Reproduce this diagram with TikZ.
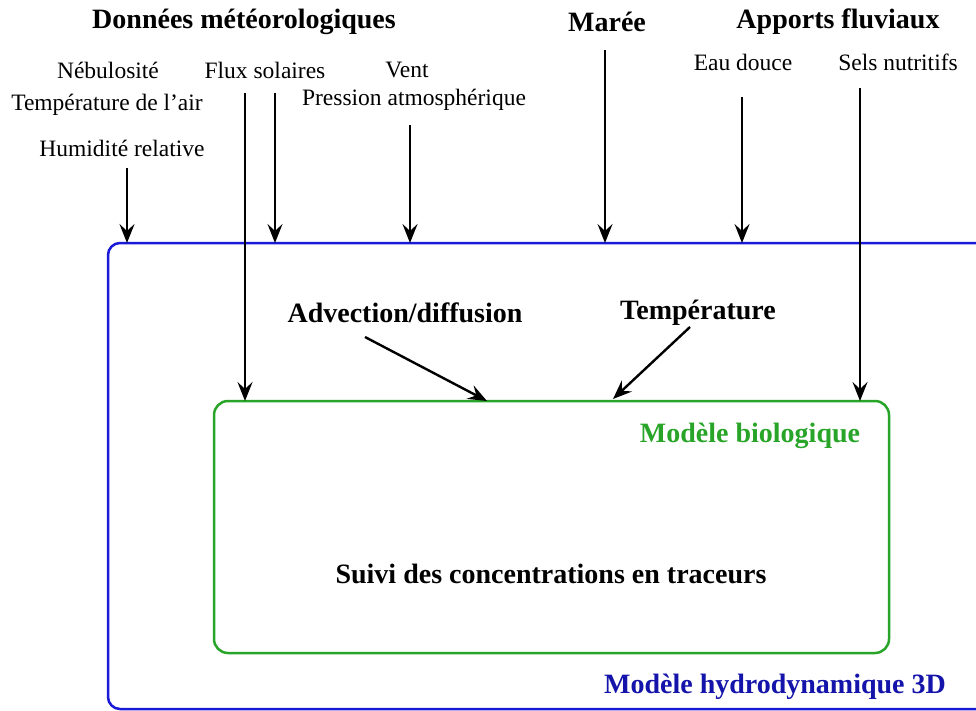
\documentclass[tikz,border=0pt]{standalone}
\usepackage{fontspec}
\setmainfont{Liberation Serif}
\usetikzlibrary{arrows.meta}
\definecolor{hblue}{RGB}{25,25,215}
\definecolor{htext}{RGB}{20,20,170}
\definecolor{bgreen}{RGB}{40,165,40}
\begin{document}
\begin{tikzpicture}[x=1pt,y=-1pt,
  big/.style={font=\fontsize{28}{32}\selectfont\bfseries, inner sep=0pt},
  small/.style={font=\fontsize{23.5}{28}\selectfont, inner sep=0pt},
  arr/.style={line width=2.4pt, -{Stealth[length=19pt,width=15pt,inset=7pt]}},
  boxstyle/.style={line width=2.5pt, inner sep=0pt, outer sep=0pt, anchor=north west}
  ]
\useasboundingbox (0,0) rectangle (976,711);
\clip (0,0) rectangle (976,711);

% boxes
\node[boxstyle, draw=hblue, rounded corners=12pt, minimum width=900pt, minimum height=466pt] (hydro) at (108,243) {};
\node[boxstyle, draw=bgreen, rounded corners=14pt, minimum width=675pt, minimum height=252pt] (bio) at (214,401) {};

% titles
\node[big] (meteo) at (244,22) {Données météorologiques};
\node[big] (maree) at (607,22) {Marée};
\node[big] (fluv) at (838,22) {Apports fluviaux};

% small labels
\node[small] (nebu) at (108,70) {Nébulosité};
\node[small] (flux) at (265,70) {Flux solaires};
\node[small] (vent) at (407,70) {Vent};
\node[small] (press) at (414,100) {Pression atmosphérique};
\node[small] (tair) at (107,105) {Température de l’air};
\node[small] (hum) at (122,148) {Humidité relative};
\node[small] (eau) at (743,62) {Eau douce};
\node[small] (sels) at (898,62) {Sels nutritifs};

% inner labels
\node[big] (adv) at (405,313) {Advection/diffusion};
\node[big] (temp) at (698,313) {Température};
\node[big, text=bgreen] (biolab) at (750,436) {Modèle biologique};
\node[big] (suivi) at (551,574) {Suivi des concentrations en traceurs};
\node[big, text=htext] (hydrolab) at (775,687) {Modèle hydrodynamique 3D};

% arrow starts
\coordinate (s1) at (127,168);
\coordinate (s2) at (245,93);
\coordinate (s3) at (275,93);
\coordinate (s4) at (410,125);
\coordinate (s5) at (605,50);
\coordinate (s6) at (742,97);
\coordinate (s7) at (860,88);
\coordinate (sa) at (365,337);
\coordinate (ea) at (487,401);
\coordinate (st) at (690,327);
\coordinate (et) at (613,399);

\draw[arr] (s1) -- (s1 |- hydro.north);
\draw[arr] (s2) -- (s2 |- bio.north);
\draw[arr] (s3) -- (s3 |- hydro.north);
\draw[arr] (s4) -- (s4 |- hydro.north);
\draw[arr] (s5) -- (s5 |- hydro.north);
\draw[arr] (s6) -- (s6 |- hydro.north);
\draw[arr] (s7) -- (s7 |- bio.north);
\draw[arr] (sa) -- (ea);
\draw[arr] (st) -- (et);
\end{tikzpicture}
\end{document}
